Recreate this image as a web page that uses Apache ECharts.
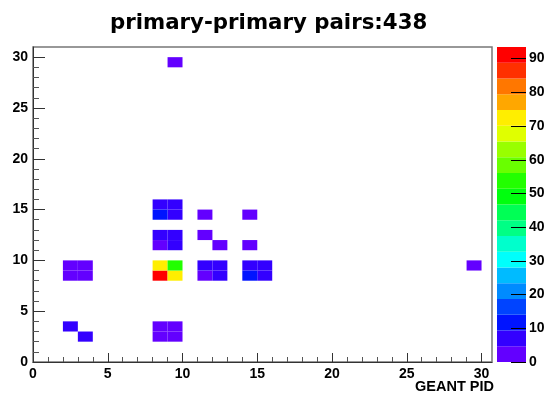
<!DOCTYPE html>
<html><head><meta charset="utf-8">
<script src="https://cdn.jsdelivr.net/npm/echarts@6/dist/echarts.min.js"></script>
<style>html,body{margin:0;padding:0;background:#fff}#c{width:545px;height:398px}</style>
</head><body><div id="c"></div>
<script>
// ---- data ----
const titleText = 'primary-primary pairs:438';
const xAxisTitle = 'GEANT PID';
// occupied bins (lower edges) and their counts
const cellX     = [2, 3, 2, 3,  8, 9, 8, 9,  9, 11, 14, 11, 12, 14, 29,  8, 11,  2, 3,  9, 8, 9,  9, 8, 9,  12, 11, 12,  15, 14, 15,  8, 14,  8, 9, 8, 9];
const cellY     = [8, 8, 9, 9,  2, 2, 3, 3, 29, 14, 14, 12, 11, 11,  9, 11,  8,  3, 2, 11, 12, 12, 14, 15, 15,  8,  9,  9,   8,  9,  9, 14,  8,  8, 8, 9, 9];
const cellCount = [3, 3, 3, 3,  3, 3, 3, 3,  2,  2,  2,  2,  2,  2,  2,  2,  2,  6, 6,  6,  6,  6,  7,  7,  7,  6,  6,  6,   7,  7,  7, 10, 10, 89, 72, 72, 53];
const xRange = [0, 30.7];
const yRange = [0, 31];
const zMax = 93.45;
const nLevels = 20;
const axisTickValues = [0, 5, 10, 15, 20, 25, 30];
const colorbarTickValues = [0, 10, 20, 30, 40, 50, 60, 70, 80, 90];
// ROOT "pretty" palette colours picked for 20 contour levels
const paletteHues = [263.2, 252, 235.2, 224, 207.2, 196, 179.2, 168, 151.2, 140, 123.2, 112, 95.2, 84, 67.2, 56, 39.2, 28, 11.2, 0];

// ---- build ----
const palette = paletteHues.map(h => 'hsl(' + h + ',100%,50%)');
const cells = cellX.map((x, i) => [x, cellY[i], cellCount[i]]);
const step = zMax / nLevels;
const levels = [];
for (let k = 0; k < nLevels; k++) levels.push([k * step, (k + 1) * step, k]);
const pieces = levels.map(l => ({gte: l[0], lt: l[1], color: palette[l[2]]}));

const FONT = 'Liberation Sans';
const labelStyle = {color: '#000', fontFamily: FONT, fontWeight: 'bold', fontSize: 14};

const chart = echarts.init(document.getElementById('c'), null, {renderer: 'canvas'});
chart.setOption({
  animation: false,
  backgroundColor: '#fff',
  title: {
    text: titleText, left: 105, top: 8,
    textStyle: {fontFamily: 'DejaVu Sans', fontWeight: 'bold', fontSize: 21.3, color: '#000'}
  },
  graphic: [{
    type: 'text', right: 51, top: 379,
    style: {text: xAxisTitle, fill: '#000', font: 'bold 14.5px "Liberation Sans"'}
  }],
  grid: [
    {left: 33, top: 47, width: 459, height: 315, show: true, borderColor: '#777', borderWidth: 1.5,
     backgroundColor: 'transparent', containLabel: false, outerBoundsMode: 'none'},
    {left: 497, top: 47, width: 29, height: 315, show: false, containLabel: false, outerBoundsMode: 'none'}
  ],
  visualMap: {type: 'piecewise', show: false, dimension: 2, seriesIndex: 0, pieces: pieces},
  xAxis: [
    {
      type: 'value', gridIndex: 0, min: xRange[0], max: xRange[1], interval: 5,
      axisLine: {show: true, onZero: false, lineStyle: {color: '#333', width: 1}},
      axisTick: {show: true, inside: true, length: 9, lineStyle: {color: '#333'}, customValues: axisTickValues},
      minorTick: {show: true, splitNumber: 5, length: 5, lineStyle: {color: '#555'}},
      axisLabel: Object.assign({margin: 5, customValues: axisTickValues}, labelStyle),
      splitLine: {show: false}, minorSplitLine: {show: false}
    },
    {type: 'value', gridIndex: 1, min: 0, max: 1, show: false, axisLine: {onZero: false}}
  ],
  yAxis: [
    {
      type: 'value', gridIndex: 0, min: yRange[0], max: yRange[1], interval: 5,
      axisLine: {show: true, onZero: false, lineStyle: {color: '#333', width: 1}},
      axisTick: {show: true, inside: true, length: 12, lineStyle: {color: '#333'}, customValues: axisTickValues},
      minorTick: {show: true, splitNumber: 5, length: 6, lineStyle: {color: '#555'}},
      axisLabel: Object.assign({margin: 5, customValues: axisTickValues}, labelStyle),
      splitLine: {show: false}, minorSplitLine: {show: false}
    },
    {
      type: 'value', gridIndex: 1, min: 0, max: zMax, position: 'right', z: 10,
      axisLine: {show: false, onZero: false},
      axisTick: {show: true, inside: true, length: 15, lineStyle: {color: '#000'}, customValues: colorbarTickValues},
      axisLabel: Object.assign({margin: 3, inside: false, customValues: colorbarTickValues}, labelStyle),
      splitLine: {show: false}
    }
  ],
  series: [
    {
      type: 'custom', xAxisIndex: 0, yAxisIndex: 0, data: cells,
      encode: {x: 0, y: 1},
      renderItem: function (params, api) {
        const x = api.value(0), y = api.value(1);
        const p0 = api.coord([x, y + 1]);
        const p1 = api.coord([x + 1, y]);
        return {type: 'rect', shape: {x: p0[0], y: p0[1], width: p1[0] - p0[0], height: p1[1] - p0[1]},
                style: {fill: api.visual('color')}};
      }
    },
    {
      type: 'custom', xAxisIndex: 1, yAxisIndex: 1, data: levels, z: 1,
      encode: {y: [0, 1]},
      renderItem: function (params, api) {
        const lo = api.value(0), hi = api.value(1), k = api.value(2);
        const p0 = api.coord([0, hi]);
        const p1 = api.coord([1, lo]);
        return {type: 'rect', shape: {x: p0[0], y: p0[1], width: p1[0] - p0[0], height: p1[1] - p0[1]},
                style: {fill: palette[k]}};
      }
    }
  ]
});
</script></body></html>
